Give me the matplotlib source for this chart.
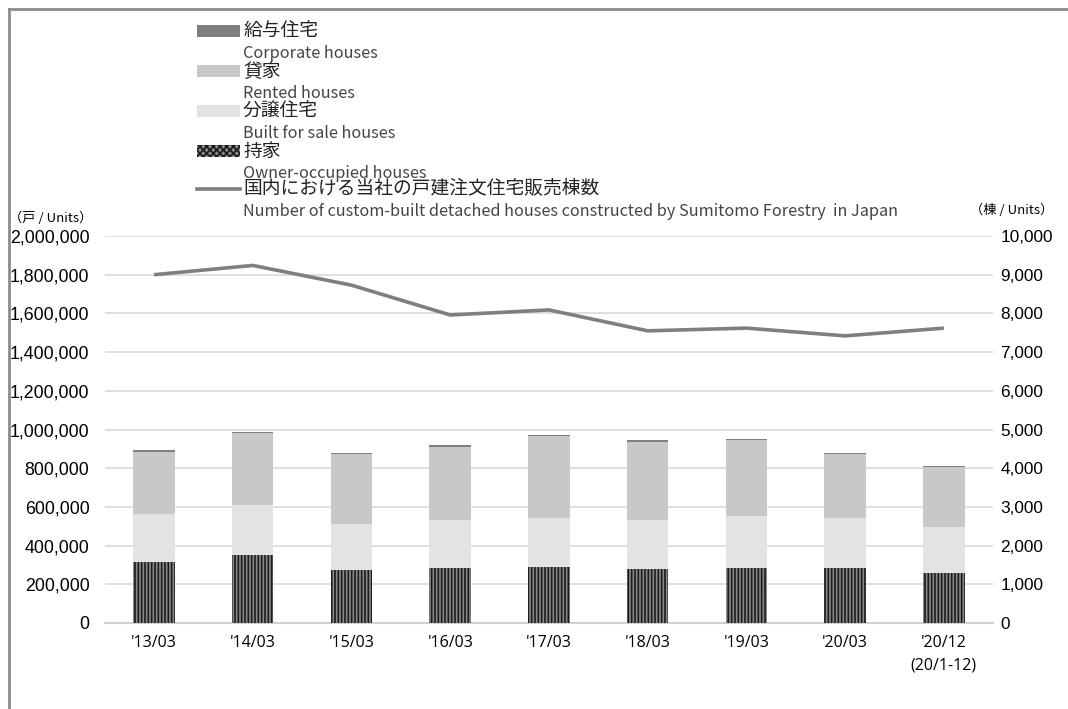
import matplotlib
matplotlib.use("Agg")
import matplotlib.pyplot as plt
from matplotlib.patches import Rectangle
from matplotlib.lines import Line2D
import numpy as np

plt.rcParams['font.family'] = ['Liberation Sans', 'Noto Sans CJK JP', 'DejaVu Sans']
plt.rcParams['hatch.linewidth'] = 1.2

# data
periods = ["'13/03", "'14/03", "'15/03", "'16/03", "'17/03", "'18/03", "'19/03", "'20/03", "'20/12\n(20/1-12)"]
owner = [313000, 350000, 275000, 282000, 290000, 280000, 285000, 282000, 258000]
built_for_sale = [250000, 262000, 238000, 250000, 252000, 250000, 270000, 262000, 240000]
rented = [321000, 368000, 360000, 380000, 425000, 408000, 390000, 330000, 308000]
corporate = [8000, 8000, 7000, 6000, 6000, 6000, 8000, 7000, 8000]
custom_built = [9000, 9240, 8730, 7960, 8090, 7550, 7620, 7420, 7620]

left_ticks = np.arange(0, 2000001, 200000)
right_ticks = np.arange(0, 10001, 1000)

c_corp = '#7f7f7f'
c_rent = '#c9c8c9'
c_sale = '#e3e3e3'
c_owner = '#8a8a8a'
c_line = '#7f7f7f'

fig = plt.figure(figsize=(10.68, 7.09), dpi=100)
ax = fig.add_axes([0.098, 0.1213, 0.832, 0.5458])
ax2 = ax.twinx()

x = np.arange(len(periods))
w = 0.42
b1 = np.array(owner)
b2 = b1 + np.array(built_for_sale)
b3 = b2 + np.array(rented)
ax.bar(x, owner, w, color=c_owner, edgecolor='#1a1a1a', hatch='|||||', linewidth=0, zorder=3)
ax.bar(x, built_for_sale, w, bottom=b1, color=c_sale, linewidth=0, zorder=3)
ax.bar(x, rented, w, bottom=b2, color=c_rent, linewidth=0, zorder=3)
ax.bar(x, corporate, w, bottom=b3, color=c_corp, linewidth=0, zorder=3)

ax2.plot(x, custom_built, color=c_line, lw=2.6, solid_capstyle='butt', zorder=4)

ax.set_xlim(-0.5, len(periods) - 0.5)
ax.set_ylim(0, 2000000)
ax2.set_ylim(0, 10000)
ax.set_yticks(left_ticks)
ax.set_yticklabels([f'{v:,}' for v in left_ticks])
ax2.set_yticks(right_ticks)
ax2.set_yticklabels([f'{v:,}' for v in right_ticks])
ax.set_xticks(x)
ax.set_xticklabels(periods, fontsize=11.5, family=['Open Sans', 'DejaVu Sans'], linespacing=1.5)

ax.grid(axis='y', color='#d9d9d9', lw=1.2, zorder=0)
ax.set_axisbelow(True)
for a in (ax, ax2):
    for s in a.spines.values():
        s.set_visible(False)
    a.tick_params(length=0)
ax.spines['bottom'].set_visible(True)
ax.spines['bottom'].set_color('#d0d0d0')
ax.spines['bottom'].set_linewidth(1.5)
ax.tick_params(axis='y', pad=11, labelsize=12.8)
ax.tick_params(axis='x', pad=9)
ax2.tick_params(axis='y', pad=5, labelsize=12.4)

fig.text(0.008, 0.692, '（戸 / Units）', fontsize=9.5, va='center', family=['Noto Sans CJK JP', 'DejaVu Sans'])
fig.text(0.986, 0.703, '（棟 / Units）', fontsize=9.5, va='center', ha='right', family=['Noto Sans CJK JP', 'DejaVu Sans'])

# legend drawn by hand
jp = ['給与住宅', '貸家', '分譲住宅', '持家', '国内における当社の戸建注文住宅販売棟数']
en = ['Corporate houses', 'Rented houses', 'Built for sale houses', 'Owner-occupied houses',
      'Number of custom-built detached houses constructed by Sumitomo Forestry  in Japan']
W, H = 1068, 709
rows = [31, 71, 111, 151, 189]
lfam = ['Noto Sans CJK JP', 'DejaVu Sans']
for i, (j, e) in enumerate(zip(jp, en)):
    yy = 1 - rows[i] / H
    if i < 4:
        kw = dict(facecolor=[c_corp, c_rent, c_sale, c_owner][i], edgecolor='none')
        if i == 3:
            kw.update(edgecolor='#1a1a1a', hatch='xxxxx', linewidth=0)
        fig.add_artist(Rectangle((197 / W, yy - 6 / H), 43 / W, 12 / H, transform=fig.transFigure, **kw))
    else:
        fig.add_artist(Line2D([197 / W, 240 / W], [yy, yy], color=c_line, lw=2.6, transform=fig.transFigure))
    fig.text(243 / W, yy, j, fontsize=13.5, va='center', family=lfam, color='#222222')
    fig.text(243 / W, yy - 23 / H, e, fontsize=11.7, va='center', family=lfam, color='#444444')

# outer frame
fig.add_artist(Line2D([9 / W, 1], [1 - 9 / H, 1 - 9 / H], color='#8c8c8c', lw=2, transform=fig.transFigure))
fig.add_artist(Line2D([9 / W, 9 / W], [0, 1 - 9 / H], color='#8c8c8c', lw=2, transform=fig.transFigure))

fig.savefig('out.png', dpi=100)
